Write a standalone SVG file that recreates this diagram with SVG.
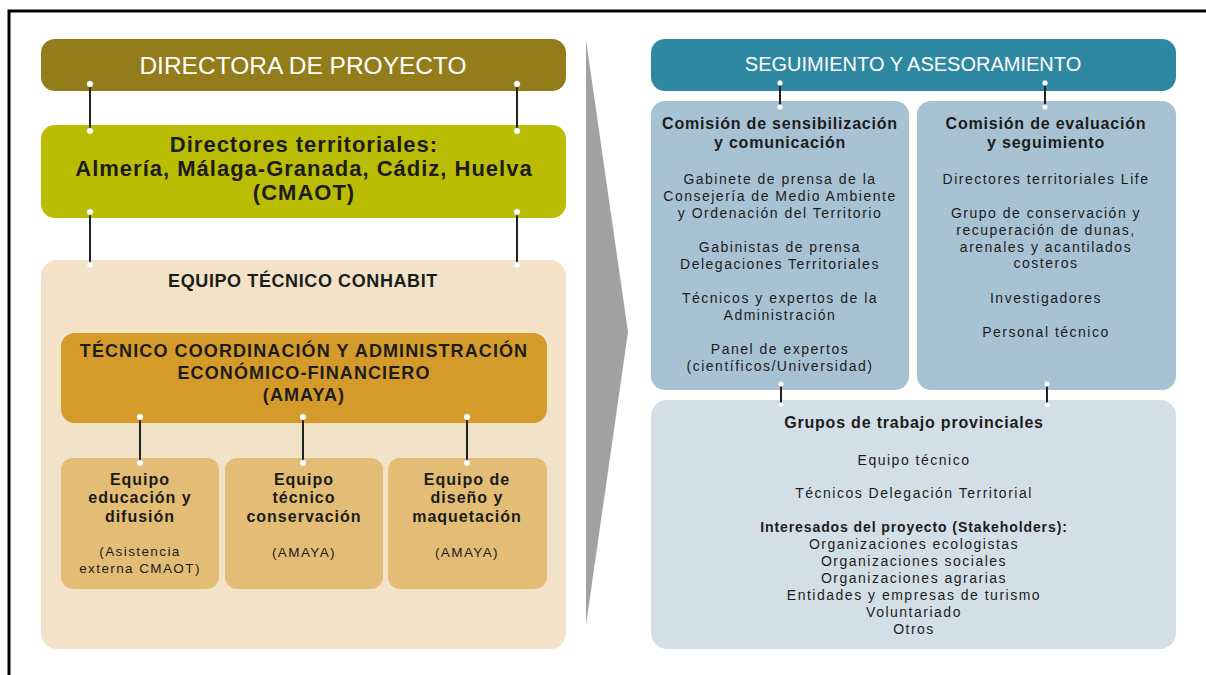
<svg xmlns="http://www.w3.org/2000/svg" width="1206" height="675" viewBox="0 0 1206 675">
<style>
text{font-family:"Liberation Sans",Arial,sans-serif;text-anchor:middle;fill:#1c1c1c}
.w{fill:#ffffff}
.h1{font-size:24.5px}
.hs{font-size:20px}
.h2{font-size:22px;font-weight:bold;letter-spacing:1px}
.h3{font-size:18px;font-weight:bold;letter-spacing:1.1px}
.hc{font-size:18px;font-weight:bold;letter-spacing:0.6px}
.h4{font-size:16px;font-weight:bold;letter-spacing:0.8px}
.h5{font-size:16px;font-weight:bold;letter-spacing:1px}
.t{font-size:14px;letter-spacing:1.5px}
.tb{font-size:14px;font-weight:bold;letter-spacing:0.9px}
.s{font-size:13.5px;letter-spacing:1.4px}
.ln{stroke:#222;stroke-width:2}
.dot{fill:#fff;stroke:#ddd;stroke-width:0.5}
</style>
<rect x="0" y="0" width="1206" height="675" fill="#fff"/>
<rect x="9" y="11" width="1220" height="690" fill="none" stroke="#000" stroke-width="3"/>
<polygon id="arrow" points="586,40 628,332 586,625" fill="#a2a2a2"/>

<g id="directora">
<rect x="41" y="39" width="525" height="52" rx="14" fill="#937d1b"/>
<text class="h1 w" x="303" y="74">DIRECTORA DE PROYECTO</text>
</g>
<g id="territoriales">
<rect x="41" y="125" width="525" height="93" rx="14" fill="#bbbc04"/>
<text class="h2" x="304" y="152">Directores territoriales:</text>
<text class="h2" x="304" y="176">Almería, Málaga-Granada, Cádiz, Huelva</text>
<text class="h2" x="304" y="200">(CMAOT)</text>
</g>
<g id="equipo-conhabit">
<rect x="41" y="260" width="525" height="389" rx="16" fill="#f2e3c8"/>
<text class="hc" x="303" y="287">EQUIPO TÉCNICO CONHABIT</text>
</g>
<g id="coordinacion">
<rect x="61" y="333" width="486" height="90" rx="14" fill="#d49b2a"/>
<text class="h3" x="304" y="357">TÉCNICO COORDINACIÓN Y ADMINISTRACIÓN</text>
<text class="h3" x="304" y="379">ECONÓMICO-FINANCIERO</text>
<text class="h3" x="304" y="401">(AMAYA)</text>
</g>
<g id="educacion">
<rect x="61" y="458" width="158" height="131" rx="12" fill="#e3bd75"/>
<text class="h5" x="140" y="485">Equipo</text>
<text class="h5" x="140" y="503">educación y</text>
<text class="h5" x="140" y="522">difusión</text>
<text class="s" x="140" y="556">(Asistencia</text>
<text class="s" x="140" y="573">externa CMAOT)</text>
</g>
<g id="conservacion">
<rect x="225" y="458" width="158" height="131" rx="12" fill="#e3bd75"/>
<text class="h5" x="304" y="485">Equipo</text>
<text class="h5" x="304" y="503">técnico</text>
<text class="h5" x="304" y="522">conservación</text>
<text class="s" x="304" y="557">(AMAYA)</text>
</g>
<g id="diseno">
<rect x="388" y="458" width="159" height="131" rx="12" fill="#e3bd75"/>
<text class="h5" x="467" y="485">Equipo de</text>
<text class="h5" x="467" y="503">diseño y</text>
<text class="h5" x="467" y="522">maquetación</text>
<text class="s" x="467" y="557">(AMAYA)</text>
</g>

<g id="seguimiento">
<rect x="651" y="39" width="525" height="52" rx="14" fill="#2f88a2"/>
<text class="hs w" x="913" y="71">SEGUIMIENTO Y ASESORAMIENTO</text>
</g>
<g id="comision-sensibilizacion">
<rect x="651" y="101" width="258" height="289" rx="14" fill="#a7c3d3"/>
<text class="h4" x="780" y="129">Comisión de sensibilización</text>
<text class="h4" x="780" y="148">y comunicación</text>
<text class="t" x="780" y="184">Gabinete de prensa de la</text>
<text class="t" x="780" y="201">Consejería de Medio Ambiente</text>
<text class="t" x="780" y="218">y Ordenación del Territorio</text>
<text class="t" x="780" y="252">Gabinistas de prensa</text>
<text class="t" x="780" y="269">Delegaciones Territoriales</text>
<text class="t" x="780" y="303">Técnicos y expertos de la</text>
<text class="t" x="780" y="320">Administración</text>
<text class="t" x="780" y="354">Panel de expertos</text>
<text class="t" x="780" y="371">(científicos/Universidad)</text>
</g>
<g id="comision-evaluacion">
<rect x="917" y="101" width="259" height="289" rx="14" fill="#a7c3d3"/>
<text class="h4" x="1046" y="129">Comisión de evaluación</text>
<text class="h4" x="1046" y="148">y seguimiento</text>
<text class="t" x="1046" y="184">Directores territoriales Life</text>
<text class="t" x="1046" y="218">Grupo de conservación y</text>
<text class="t" x="1046" y="235">recuperación de dunas,</text>
<text class="t" x="1046" y="252">arenales y acantilados</text>
<text class="t" x="1046" y="268">costeros</text>
<text class="t" x="1046" y="303">Investigadores</text>
<text class="t" x="1046" y="337">Personal técnico</text>
</g>
<g id="grupos">
<rect x="651" y="400" width="525" height="249" rx="16" fill="#d3dfe7"/>
<text class="h4" x="914" y="428">Grupos de trabajo provinciales</text>
<text class="t" x="914" y="465">Equipo técnico</text>
<text class="t" x="914" y="498">Técnicos Delegación Territorial</text>
<text class="tb" x="914" y="532">Interesados del proyecto (Stakeholders):</text>
<text class="t" x="914" y="549">Organizaciones ecologistas</text>
<text class="t" x="914" y="566">Organizaciones sociales</text>
<text class="t" x="914" y="583">Organizaciones agrarias</text>
<text class="t" x="914" y="600">Entidades y empresas de turismo</text>
<text class="t" x="914" y="617">Voluntariado</text>
<text class="t" x="914" y="634">Otros</text>
</g>

<g id="connectors">
<line class="ln" x1="90" y1="84" x2="90" y2="131"/>
<line class="ln" x1="517" y1="84" x2="517" y2="131"/>
<line class="ln" x1="90" y1="212" x2="90" y2="265"/>
<line class="ln" x1="517" y1="212" x2="517" y2="265"/>
<line class="ln" x1="140" y1="417" x2="140" y2="463"/>
<line class="ln" x1="303" y1="417" x2="303" y2="463"/>
<line class="ln" x1="467" y1="417" x2="467" y2="463"/>
<line class="ln" x1="780" y1="83" x2="780" y2="107"/>
<line class="ln" x1="1045" y1="83" x2="1045" y2="107"/>
<line class="ln" x1="781" y1="384" x2="781" y2="405"/>
<line class="ln" x1="1047" y1="384" x2="1047" y2="405"/>
<circle class="dot" cx="90" cy="84" r="3"/><circle class="dot" cx="90" cy="131" r="3"/>
<circle class="dot" cx="517" cy="84" r="3"/><circle class="dot" cx="517" cy="131" r="3"/>
<circle class="dot" cx="90" cy="212" r="3"/><circle class="dot" cx="90" cy="265" r="3"/>
<circle class="dot" cx="517" cy="212" r="3"/><circle class="dot" cx="517" cy="265" r="3"/>
<circle class="dot" cx="140" cy="417" r="3"/><circle class="dot" cx="140" cy="463" r="3"/>
<circle class="dot" cx="303" cy="417" r="3"/><circle class="dot" cx="303" cy="463" r="3"/>
<circle class="dot" cx="467" cy="417" r="3"/><circle class="dot" cx="467" cy="463" r="3"/>
<circle class="dot" cx="780" cy="83" r="2.5"/><circle class="dot" cx="780" cy="107" r="2.5"/>
<circle class="dot" cx="1045" cy="83" r="2.5"/><circle class="dot" cx="1045" cy="107" r="2.5"/>
<circle class="dot" cx="781" cy="384" r="2.5"/><circle class="dot" cx="781" cy="405" r="2.5"/>
<circle class="dot" cx="1047" cy="384" r="2.5"/><circle class="dot" cx="1047" cy="405" r="2.5"/>
</g>
</svg>
